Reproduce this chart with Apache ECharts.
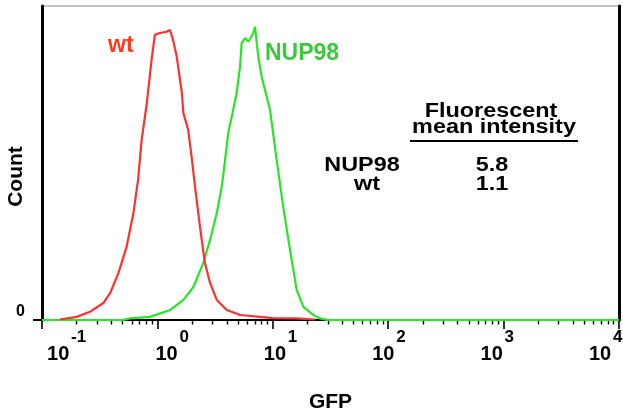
<!DOCTYPE html>
<html>
<head>
<meta charset="utf-8">
<script src="https://cdn.jsdelivr.net/npm/echarts@6.0.0/dist/echarts.min.js"></script>
<style>
html,body{margin:0;padding:0;background:#fff;}
#chart{width:623px;height:413px;}
</style>
</head>
<body>
<div id="chart"></div>
<script>
// ---- data ----
const wtGFP    = [0.143,0.148,0.20,0.26,0.34,0.39,0.46,0.54,0.62,0.68,0.73,0.81,0.89,0.95,1.05,1.20,1.28,1.36,1.47,1.63,1.68,1.85,1.98,2.12,2.34,2.58,2.86,3.27,3.99,5.2,7.75,10.0,15.6,23.2];
const wtCount  = [0.16,0.6,1.0,2.6,5.4,8.6,15.0,23.2,34.1,44.6,57.3,69.1,82.8,90.8,91.4,91.8,92.4,89.5,83.9,72.3,65.9,60.5,51.9,42.4,29.6,18.2,11.8,6.4,3.2,1.6,1.0,0.6,0.5,0.16];
const nupGFP   = [0.1,0.5,0.58,0.86,1.29,1.68,2.05,2.5,2.86,3.27,3.61,3.86,4.11,4.4,4.86,5.2,5.37,5.74,6.14,6.78,7.01,7.48,8.01,9.46,10.8,12.3,14.1,16.1,18.4,22.4,25.6,30,10000];
const nupCount = [0,0,0.5,1.0,3.2,6.4,10.5,18.2,25.5,34.1,42.4,51.0,59.6,64.6,72.3,80.6,88.2,89.8,88.6,91.4,93.4,83.9,77.5,66.9,51.0,36.1,22.3,9.6,4.2,1.6,0.5,0,0];

const decadeTicks = [0.1,1,10,100,1000,10000];
const minorTicks  = [0.2,0.3,0.4,0.5,0.6,0.7,0.8,0.9,
                     2,3,4,5,6,7,8,9,
                     20,30,40,50,60,70,80,90,
                     200,300,400,500,600,700,800,900,
                     2000,3000,4000,5000,6000,7000,8000,9000];
const yTicks = [0];

const tableHeader = ['Fluorescent','mean intensity'];
const tableRows   = ['NUP98','wt'];
const tableValues = ['5.8','1.1'];
const seriesNames = ['wt','NUP98'];

// ---- chart ----
const FONT = '"Liberation Sans", Arial, sans-serif';
const RED = '#ff3030', GREEN = '#26e626';
const RED_TXT = '#ff3a1a', GREEN_TXT = '#3cc83c';

function pairs(xs, ys){ return xs.map((x,i)=>[x, ys[i]]); }
function tableText(str, x, y){
  return {type:'text', x:x, y:y, scaleX:1.17, scaleY:1,
    style:{text:str, fontFamily:FONT, fontWeight:'bold', fontSize:20, fill:'#000', align:'center', verticalAlign:'middle'}};
}

const chart = echarts.init(document.getElementById('chart'), null, {renderer:'canvas'});

const option = {
  animation:false,
  backgroundColor:'#fff',
  grid:{left:42, right:4, top:6, bottom:93, containLabel:false, outerBoundsMode:'none',
        show:true, borderColor:'#b0b0b0', borderWidth:1.5, backgroundColor:'transparent'},
  xAxis:[
    { // main axis: decade ticks + name
      type:'log', logBase:10, min:0.1, max:10000, position:'bottom',
      axisLine:{show:true, onZero:false, lineStyle:{color:'#000', width:2}},
      axisTick:{show:true, inside:false, length:9, customValues:decadeTicks, lineStyle:{color:'#000', width:1.6}},
      axisLabel:{show:false}, splitLine:{show:false}, minorTick:{show:false},
      name:'GFP', nameLocation:'middle', nameGap:72, nameMoveOverlap:false,
      nameTextStyle:{fontFamily:FONT, fontWeight:'bold', fontSize:21, color:'#000'}
    },
    { // minor ticks
      type:'log', logBase:10, min:0.1, max:10000, position:'bottom',
      axisLine:{show:false},
      axisTick:{show:true, length:4.5, customValues:minorTicks, lineStyle:{color:'#000', width:1.4}},
      axisLabel:{show:false}, splitLine:{show:false}
    },
    { // decade labels
      type:'log', logBase:10, min:0.0899, max:18923, position:'bottom',
      axisLine:{show:false}, axisTick:{show:false}, splitLine:{show:false},
      axisLabel:{
        show:true, customValues:decadeTicks, margin:9, align:'left', verticalAlign:'top',
        formatter:function(v){ return '{e|' + Math.round(Math.log10(v)) + '}\n{b|10}'; },
        rich:{
          e:{fontFamily:FONT, fontWeight:'bold', fontSize:17, lineHeight:16, color:'#000', padding:[0,0,0,24]},
          b:{fontFamily:FONT, fontWeight:'bold', fontSize:20, lineHeight:18, color:'#000'}
        }
      }
    }
  ],
  yAxis:[
    {
      type:'value', min:0, max:100, position:'left',
      axisLine:{show:true, onZero:false, lineStyle:{color:'#000', width:3}},
      axisTick:{show:true, length:9, customValues:yTicks, lineStyle:{color:'#000', width:2}},
      axisLabel:{show:true, customValues:yTicks, margin:17, fontFamily:FONT, fontWeight:'bold', fontSize:16, color:'#000', verticalAlign:'bottom'},
      splitLine:{show:false},
      name:'Count', nameLocation:'middle', nameGap:15, nameMoveOverlap:false,
      nameTextStyle:{fontFamily:FONT, fontWeight:'bold', fontSize:21, color:'#000', padding:[0,27,0,0]}
    },
    {
      type:'value', min:0, max:100, position:'right',
      axisLine:{show:true, onZero:false, lineStyle:{color:'#000', width:3}},
      axisTick:{show:false}, axisLabel:{show:false}, splitLine:{show:false}
    }
  ],
  series:[
    {
      name:seriesNames[1], type:'line', xAxisIndex:0, yAxisIndex:0,
      data:pairs(nupGFP, nupCount), showSymbol:false, symbol:'none', smooth:false,
      lineStyle:{color:GREEN, width:2.2}, z:3
    },
    {
      name:seriesNames[0], type:'line', xAxisIndex:0, yAxisIndex:0,
      data:pairs(wtGFP, wtCount), showSymbol:false, symbol:'none', smooth:false,
      lineStyle:{color:RED, width:2.2}, z:4
    }
  ],
  graphic:[
    {type:'text', left:108, top:34, style:{text:seriesNames[0], fontFamily:FONT, fontWeight:'bold', fontSize:23, fill:RED_TXT}},
    {type:'text', left:265, top:42, style:{text:seriesNames[1], fontFamily:FONT, fontWeight:'bold', fontSize:23, fill:GREEN_TXT}},
    tableText(tableHeader[0], 491, 111),
    tableText(tableHeader[1], 494, 127),
    {type:'line', shape:{x1:410, y1:141, x2:578, y2:141}, style:{stroke:'#000', lineWidth:2}},
    tableText(tableRows[0], 362, 165),
    tableText(tableValues[0], 492, 165),
    tableText(tableRows[1], 367, 184),
    tableText(tableValues[1], 492, 184)
  ]
};
chart.setOption(option);
</script>
</body>
</html>
